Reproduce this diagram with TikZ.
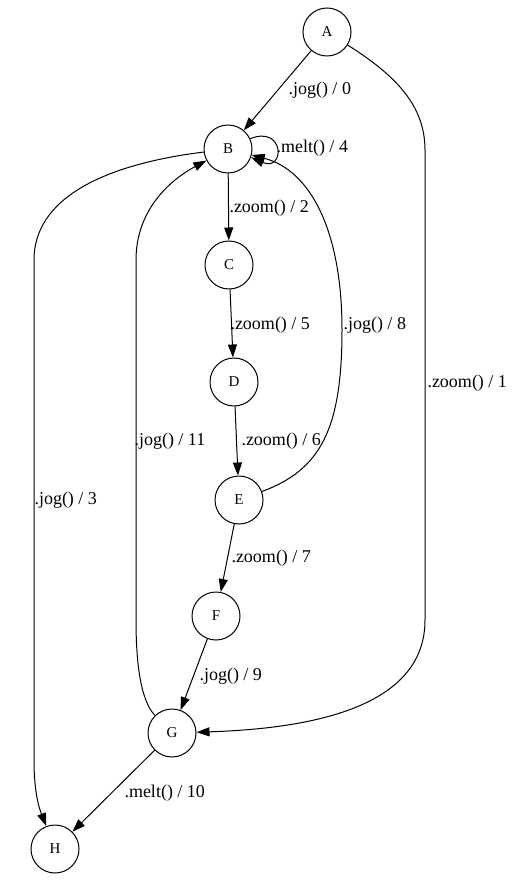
\documentclass[tikz,border=0pt]{standalone}
\usepackage{fontspec}
\setmainfont{Liberation Serif}
\usetikzlibrary{arrows.meta,positioning}

\begin{document}
\begin{tikzpicture}[x=1pt,y=-1pt,line width=1pt,
  state/.style={circle,draw,minimum size=48pt,inner sep=0pt,font=\fontsize{15}{17}\selectfont},
  lbl/.style={anchor=west,inner sep=0pt,font=\fontsize{18}{20}\selectfont},
  edge/.style={-{Triangle[length=13pt,width=9pt]}}]

  \useasboundingbox (0,0) rectangle (522,882);

  \node[state] (A) at (327,32) {A};
  \node[state] (B) at (228,149) {B};
  \node[state] (C) at (229,265) {C};
  \node[state] (D) at (234,382) {D};
  \node[state] (E) at (239,500) {E};
  \node[state] (F) at (216,616) {F};
  \node[state] (G) at (172,733) {G};
  \node[state] (H) at (55,849) {H};

  % straight edges
  \draw[edge] (A) -- (B);
  \draw[edge] (B) -- (C);
  \draw[edge] (C) -- (D);
  \draw[edge] (D) -- (E);
  \draw[edge] (E) -- (F);
  \draw[edge] (F) -- (G);
  \draw[edge] (G) -- (H);

  % loop and curved edges
  \draw[edge] (B.25) .. controls (285,125) and (285,172) .. (B.-20);
  \draw[edge] (A) .. controls (395,75) and (425,105) .. (425,150) -- (425,620)
      .. controls (425,700) and (330,728) .. (G);
  \draw[edge] (E) .. controls (320,470) and (342,430) .. (342,330)
      .. controls (342,230) and (310,170) .. (B);
  \draw[edge] (G) .. controls (140,700) and (136,660) .. (136,620) -- (136,260)
      .. controls (136,210) and (170,180) .. (B);
  \draw[edge] (B) .. controls (100,165) and (34,200) .. (34,260) -- (34,760)
      .. controls (34,800) and (42,815) .. (H);

  \node[lbl] (l0) at (288,90) {.jog() / 0};
  \node[lbl] (l4) at (276,148) {.melt() / 4};
  \node[lbl] (l2) at (229,208) {.zoom() / 2};
  \node[lbl] (l5) at (230,325) {.zoom() / 5};
  \node[lbl] (l6) at (241,441) {.zoom() / 6};
  \node[lbl] (l7) at (231,558) {.zoom() / 7};
  \node[lbl] (l9) at (199,676) {.jog() / 9};
  \node[lbl] (l10) at (124,793) {.melt() / 10};
  \node[lbl] (l1) at (427,383) {.zoom() / 1};
  \node[lbl] (l8) at (343,325) {.jog() / 8};
  \node[lbl] (l11) at (134,441) {.jog() / 11};
  \node[lbl] (l3) at (34,500) {.jog() / 3};

\end{tikzpicture}
\end{document}
